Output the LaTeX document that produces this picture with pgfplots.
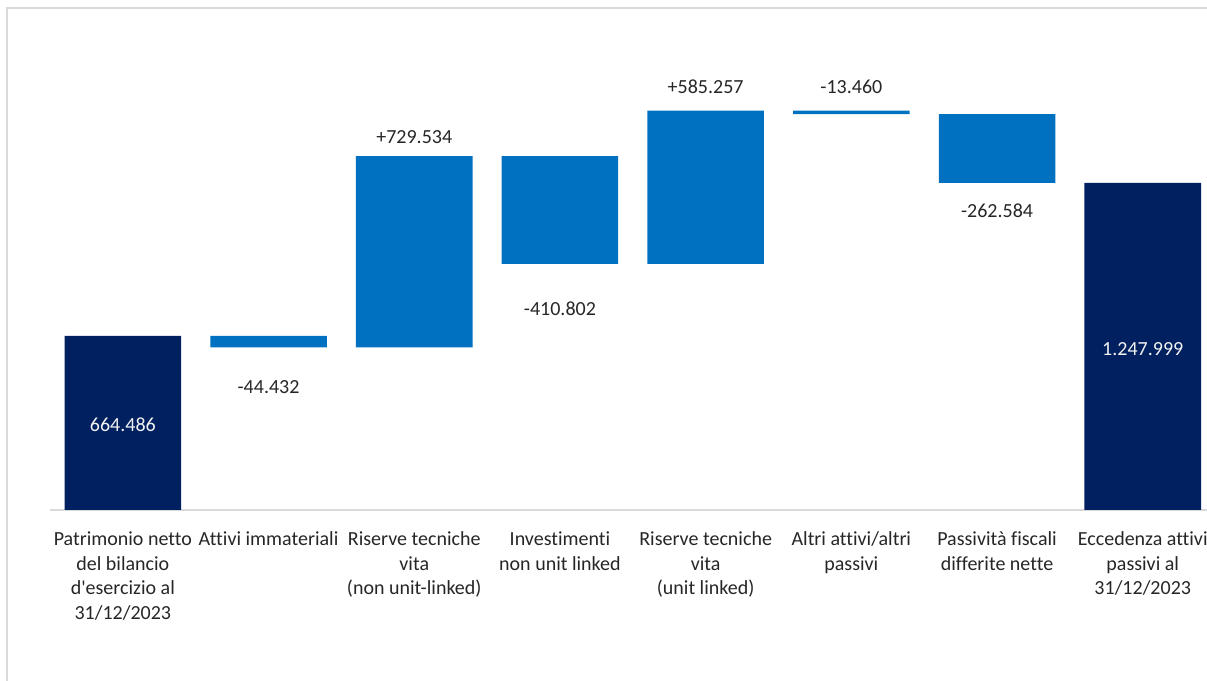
\documentclass[border=0pt]{standalone}
\usepackage{pgfplots}
\pgfplotsset{compat=1.18}
\usepackage{fontspec}
\setmainfont{Carlito}[Ligatures=NoCommon]
\definecolor{navy}{HTML}{002060}
\definecolor{mblue}{HTML}{0070C0}
\definecolor{txt}{HTML}{262626}
\definecolor{wtxt}{HTML}{F2F2F2}
\definecolor{framec}{HTML}{D9D9D9}
\begin{document}
\begin{tikzpicture}
\useasboundingbox (0,0) rectangle (905.25pt,510.75pt);
\draw[framec, line width=1.5pt] (5.25pt,504.75pt) rectangle (940pt,-30pt);
\begin{axis}[
  at={(37.5pt,128.25pt)}, anchor=south west,
  scale only axis, width=874.2pt, height=376.5pt,
  xmin=-0.5, xmax=7.5, ymin=0, ymax=1915.1,
  ybar stacked, bar width=0.8,
  axis x line*=bottom, axis y line=none,
  x axis line style={-, framec, line width=1.5pt},
  ytick=\empty,
  xtick={0,...,7},
  major tick length=0pt,
  xticklabels={
    {Patrimonio netto\\del bilancio\\d\textquotesingle esercizio al\\31/12/2023},
    {Attivi immateriali},
    {Riserve tecniche\\vita\\(non unit-linked)},
    {Investimenti\\non unit linked},
    {Riserve tecniche\\vita\\(unit linked)},
    {Altri attivi/altri\\passivi},
    {Passività fiscali\\differite nette},
    {Eccedenza attivi\\passivi al\\31/12/2023}},
  xticklabel style={anchor=north, align=center, inner sep=0pt, yshift=-16pt,
    font=\fontsize{15}{18.5}\selectfont, text=txt},
  clip=false,
]
\addplot[draw=none, fill=none] coordinates
  {(0,0) (1,620.054) (2,620.054) (3,938.786) (4,938.786) (5,1510.583) (6,1247.999) (7,0)};
\addplot[draw=none, fill=mblue] coordinates
  {(0,0) (1,44.432) (2,729.534) (3,410.802) (4,585.257) (5,13.460) (6,262.584) (7,0)};
\addplot[draw=none, fill=navy] coordinates
  {(0,664.486) (1,0) (2,0) (3,0) (4,0) (5,0) (6,0) (7,1247.999)};
\coordinate (L0) at (axis cs:0,324.3);
\coordinate (L1) at (axis cs:1,469.2);
\coordinate (L2) at (axis cs:2,1423.0);
\coordinate (L3) at (axis cs:3,766.8);
\coordinate (L4) at (axis cs:4,1613.7);
\coordinate (L5) at (axis cs:5,1613.7);
\coordinate (L6) at (axis cs:6,1140.7);
\coordinate (L7) at (axis cs:7,614.2);
\end{axis}
\tikzset{lab/.style={font=\fontsize{15}{18.5}\selectfont, text=txt, inner sep=0pt}}
\node[lab, text=wtxt] at (L0) {664.486};
\node[lab] at (L1) {-44.432};
\node[lab] at (L2) {+729.534};
\node[lab] at (L3) {-410.802};
\node[lab] at (L4) {+585.257};
\node[lab] at (L5) {-13.460};
\node[lab] at (L6) {-262.584};
\node[lab, text=wtxt] at (L7) {1.247.999};
\end{tikzpicture}
\end{document}
